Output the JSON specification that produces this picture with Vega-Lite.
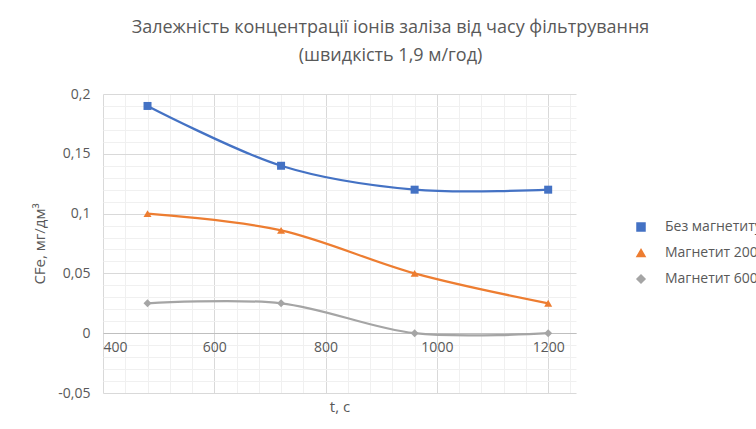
{
  "$schema": "https://vega.github.io/schema/vega-lite/v6.json",
  "width": 473,
  "height": 299,
  "autosize": {"type": "none"},
  "padding": {"left": 103, "top": 94, "right": 180, "bottom": 36},
  "background": "white",
  "config": {"view": {"stroke": null}, "font": "Open Sans"},
  "title": {
    "text": ["Залежність концентрації іонів заліза від часу фільтрування", "(швидкість 1,9 м/год)"],
    "fontSize": 18,
    "fontWeight": "normal",
    "color": "#595959",
    "lineHeight": 28,
    "offset": 22,
    "dx": 51,
    "anchor": "middle"
  },
  "data": {
    "values": [
      {"series": "Без магнетиту", "t": 480, "c": 0.19},
      {"series": "Без магнетиту", "t": 720, "c": 0.14},
      {"series": "Без магнетиту", "t": 960, "c": 0.12},
      {"series": "Без магнетиту", "t": 1200, "c": 0.12},
      {"series": "Магнетит 200", "t": 480, "c": 0.1},
      {"series": "Магнетит 200", "t": 720, "c": 0.086},
      {"series": "Магнетит 200", "t": 960, "c": 0.05},
      {"series": "Магнетит 200", "t": 1200, "c": 0.025},
      {"series": "Магнетит 600", "t": 480, "c": 0.025},
      {"series": "Магнетит 600", "t": 720, "c": 0.025},
      {"series": "Магнетит 600", "t": 960, "c": 0},
      {"series": "Магнетит 600", "t": 1200, "c": 0}
    ]
  },
  "layer": [
    {
      "mark": {"type": "point", "opacity": 0},
      "encoding": {
        "x": {
          "field": "t", "type": "quantitative",
          "scale": {"domain": [400, 1250], "nice": false, "zero": false},
          "axis": {"orient": "top", "values": [440, 480, 520, 560, 640, 680, 720, 760, 840, 880, 920, 960, 1040, 1080, 1120, 1160, 1240], "grid": true, "gridColor": "#f0f0f0", "labels": false, "ticks": false, "domain": false, "title": null}
        },
        "y": {
          "field": "c", "type": "quantitative",
          "scale": {"domain": [-0.05, 0.2], "nice": false, "zero": false},
          "axis": {"orient": "right", "values": [-0.04, -0.03, -0.02, -0.01, 0.01, 0.02, 0.03, 0.04, 0.06, 0.07, 0.08, 0.09, 0.11, 0.12, 0.13, 0.14, 0.16, 0.17, 0.18, 0.19], "grid": true, "gridColor": "#f0f0f0", "labels": false, "ticks": false, "domain": false, "title": null}
        }
      }
    },
    {
      "mark": {"type": "line", "interpolate": "cardinal", "strokeWidth": 2.25},
      "encoding": {
        "x": {
          "field": "t", "type": "quantitative",
          "scale": {"domain": [400, 1250], "nice": false, "zero": false},
          "axis": {"values": [400, 600, 800, 1000, 1200], "format": "d", "grid": true, "gridColor": "#d9d9d9", "offset": -60, "domainColor": "#bfbfbf", "domainWidth": 1, "ticks": false, "labelFontSize": 14, "labelColor": "#595959", "labelPadding": 7, "title": "t, c", "titleFontSize": 15, "titleColor": "#595959", "titleFontWeight": "normal", "titleY": 66, "titleBaseline": "top"}
        },
        "y": {
          "field": "c", "type": "quantitative",
          "scale": {"domain": [-0.05, 0.2], "nice": false, "zero": false},
          "axis": {"values": [-0.05, 0, 0.05, 0.1, 0.15, 0.2], "grid": true, "gridColor": "#d9d9d9", "domain": false, "ticks": false, "labelFontSize": 14, "labelColor": "#595959", "labelPadding": 13, "labelExpr": "replace(replace(format(datum.value, '.2~f'), '.', ','), '\u2212', '-')", "title": "CFe, мг/дм³", "titleFontSize": 15, "titleColor": "#595959", "titleFontWeight": "normal", "titlePadding": 10}
        },
        "color": {
          "field": "series", "type": "nominal",
          "scale": {"domain": ["Без магнетиту", "Магнетит 200", "Магнетит 600"], "range": ["#4472C4", "#ED7D31", "#A5A5A5"]}
        }
      }
    },
    {
      "mark": {"type": "point", "filled": true, "opacity": 1, "size": 64},
      "encoding": {
        "x": {"field": "t", "type": "quantitative", "axis": null},
        "y": {"field": "c", "type": "quantitative", "axis": null},
        "color": {
          "field": "series", "type": "nominal",
          "legend": {
            "orient": "none", "legendX": 531, "legendY": 126, "title": null, "padding": 0,
            "labelFontSize": 14, "labelColor": "#595959", "labelOffset": 17, "rowPadding": 12, "symbolSize": 64,
            "encode": {"symbols": {"strokeWidth": {"value": 0}, "opacity": {"value": 1}, "size": {"value": 64}}}
          }
        },
        "shape": {
          "field": "series", "type": "nominal",
          "scale": {"domain": ["Без магнетиту", "Магнетит 200", "Магнетит 600"], "range": ["square", "triangle-up", "diamond"]},
          "legend": null
        }
      }
    }
  ],
  "resolve": {"axis": {"x": "independent", "y": "independent"}}
}
